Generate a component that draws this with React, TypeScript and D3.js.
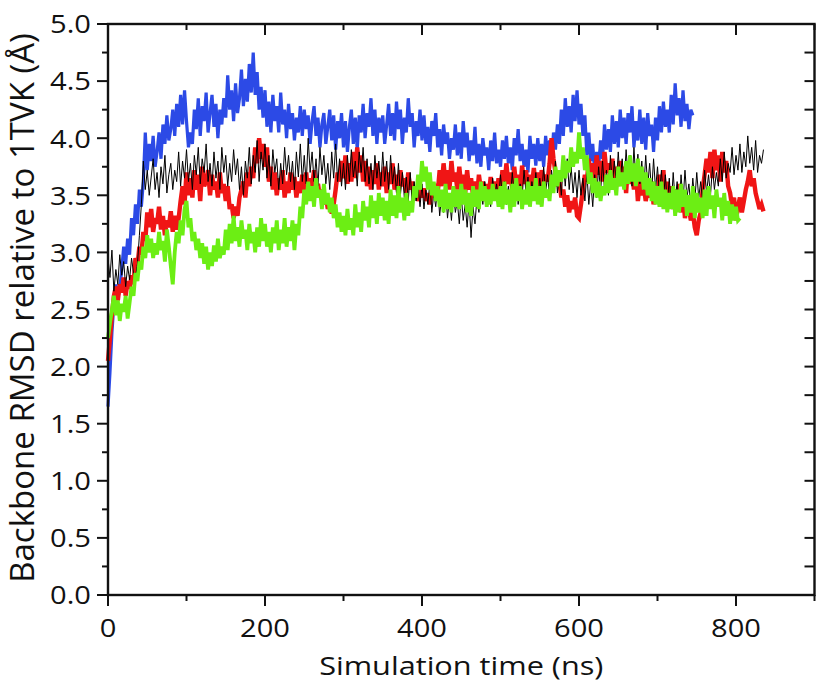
import * as d3 from "d3";

// RMSD traces, one value every STEP ns starting at t = 0
const STEP = 2.5;

const blueRmsd = [
  1.65, 1.95, 2.3, 2.55, 2.72, 2.6, 2.68, 2.85, 3.05, 2.9, 3.12, 2.98, 3.3, 3.15, 3.42, 3.25, 3.55, 3.4, 3.62, 4.05,
  3.72, 3.95, 3.8, 4.02, 3.75, 3.88, 4.05, 3.82, 4.12, 3.95, 4.2, 3.98, 4.08, 4.25, 4.02, 4.3, 4.1, 4.38, 4.12, 4.42,
  4.15, 3.92, 4.05, 3.95, 4.25, 4.08, 4.35, 4.02, 4.28, 4.15, 4.4, 4.05, 4.22, 4.38, 4.1, 4.3, 4.0, 4.25, 4.12, 4.35,
  4.18, 4.55, 4.25, 4.42, 4.15, 4.48, 4.22, 4.35, 4.6, 4.28, 4.52, 4.32, 4.65, 4.4, 4.75, 4.38, 4.58, 4.25, 4.45, 4.18,
  4.42, 4.1, 4.32, 4.05, 4.38, 4.15, 4.28, 4.05, 4.4, 4.12, 4.25, 4.0, 4.3, 4.08, 4.22, 3.98, 4.18, 4.05, 4.28, 4.02,
  4.25, 4.08, 4.2, 3.95, 4.15, 4.28, 4.02, 4.18, 3.92, 4.12, 4.22, 3.95, 4.1, 4.25, 3.98, 4.2, 3.9, 4.15, 4.0, 4.22,
  3.92, 4.15, 3.88, 4.1, 4.25, 3.95, 4.18, 3.9, 4.2, 4.05, 4.3, 4.0, 4.22, 4.1, 4.35, 4.02, 4.25, 3.95, 4.18, 4.05,
  4.2, 3.95, 4.12, 4.3, 4.02, 4.22, 3.98, 4.32, 4.08, 4.25, 3.95, 4.18, 4.05, 4.35, 4.1, 4.22, 3.92, 4.15, 4.02, 4.25,
  3.98, 4.2, 3.95, 4.1, 3.88, 4.15, 4.02, 4.22, 3.92, 4.08, 3.85, 4.12, 3.95, 4.05, 3.82, 4.0, 3.9, 4.12, 3.85, 4.05,
  3.82, 4.15, 3.92, 4.05, 3.8, 3.98, 3.85, 4.1, 3.78, 3.95, 3.75, 4.0, 3.85, 3.92, 3.72, 3.98, 3.8, 4.05, 3.78, 3.9,
  3.75, 3.98, 3.82, 4.02, 3.78, 3.92, 3.72, 4.0, 3.85, 4.08, 3.8, 3.95, 3.75, 3.9, 3.7, 4.02, 3.82, 3.95, 3.76, 4.0,
  3.8, 3.95, 3.75, 4.02, 3.85, 3.98, 3.78, 4.05, 3.9, 4.12, 3.95, 4.25, 4.02, 4.35, 4.1, 4.28, 4.05, 4.38, 4.15, 4.42,
  4.12, 4.3, 4.02, 4.2, 3.85, 4.05, 3.8, 3.95, 3.7, 3.88, 3.75, 3.98, 3.82, 4.12, 3.9, 4.08, 3.88, 4.2, 3.95, 4.15,
  3.92, 4.25, 4.0, 4.18, 3.95, 4.22, 4.05, 4.28, 3.92, 4.15, 3.98, 4.25, 3.95, 4.18, 3.9, 4.22, 4.02, 4.12, 3.88, 4.18,
  3.98, 4.28, 4.05, 4.32, 4.1, 4.25, 4.05, 4.38, 4.12, 4.48, 4.2, 4.35, 4.1, 4.42, 4.15, 4.3, 4.08, 4.25, 4.2,
];

const blackRmsd = [
  2.95, 2.78, 3.02, 2.66, 2.85, 2.72, 2.98, 2.8, 2.92, 2.7, 2.88, 2.76, 2.95, 2.82, 2.78, 2.9, 3.15, 3.42, 3.8, 3.55,
  3.72, 3.5, 3.66, 3.82, 3.55, 3.7, 3.48, 3.75, 3.6, 3.85, 3.52, 3.68, 3.78, 3.55, 3.72, 3.62, 3.88, 3.58, 3.8, 3.65,
  3.9, 3.62, 3.78, 3.55, 3.85, 3.68, 3.92, 3.6, 3.82, 3.7, 3.95, 3.62, 3.78, 3.58, 3.88, 3.65, 3.8, 3.55, 3.92, 3.7,
  3.85, 3.58, 3.78, 3.62, 3.9, 3.68, 3.82, 3.55, 3.75, 3.5, 3.8, 3.65, 3.92, 3.6, 3.85, 3.7, 3.98, 3.62, 3.88, 3.72,
  3.95, 3.65, 3.85, 3.58, 3.9, 3.7, 3.82, 3.55, 3.78, 3.6, 3.92, 3.68, 3.85, 3.62, 3.8, 3.55, 3.88, 3.66, 3.95, 3.62,
  3.85, 3.6, 4.0, 3.7, 3.88, 3.62, 3.82, 3.58, 3.92, 3.68, 3.85, 3.6, 3.78, 3.55, 3.88, 3.65, 3.95, 3.62, 3.82, 3.58,
  3.78, 3.55, 3.85, 3.62, 3.9, 3.66, 3.8, 3.58, 3.88, 3.7, 3.92, 3.62, 3.82, 3.6, 3.78, 3.55, 3.85, 3.65, 3.8, 3.58,
  3.88, 3.62, 3.8, 3.55, 3.85, 3.6, 3.75, 3.52, 3.78, 3.5, 3.7, 3.48, 3.66, 3.45, 3.7, 3.42, 3.62, 3.45, 3.58, 3.4,
  3.6, 3.38, 3.55, 3.42, 3.62, 3.35, 3.52, 3.4, 3.58, 3.32, 3.5, 3.35, 3.55, 3.3, 3.48, 3.28, 3.52, 3.35, 3.45, 3.25,
  3.5, 3.28, 3.42, 3.22, 3.45, 3.13, 3.4, 3.25, 3.48, 3.35, 3.58, 3.42, 3.62, 3.45, 3.55, 3.4, 3.65, 3.48, 3.6, 3.45,
  3.68, 3.48, 3.62, 3.42, 3.58, 3.45, 3.7, 3.5, 3.65, 3.42, 3.6, 3.48, 3.72, 3.52, 3.66, 3.45, 3.62, 3.5, 3.7, 3.46,
  3.65, 3.5, 3.75, 3.52, 3.68, 3.48, 3.72, 3.55, 3.8, 3.52, 3.7, 3.5, 3.78, 3.58, 3.82, 3.55, 3.75, 3.52, 3.7, 3.48,
  3.72, 3.5, 3.65, 3.45, 3.7, 3.42, 3.62, 3.4, 3.68, 3.48, 3.75, 3.52, 3.8, 3.55, 3.72, 3.5, 3.85, 3.58, 3.8, 3.6,
  3.88, 3.62, 3.82, 3.6, 3.9, 3.65, 3.85, 3.58, 3.92, 3.62, 3.86, 3.6, 3.8, 3.55, 3.85, 3.58, 3.78, 3.52, 3.82, 3.55,
  3.75, 3.5, 3.72, 3.46, 3.68, 3.42, 3.65, 3.4, 3.7, 3.45, 3.62, 3.38, 3.68, 3.44, 3.72, 3.48, 3.6, 3.4, 3.65, 3.45,
  3.7, 3.48, 3.62, 3.45, 3.72, 3.52, 3.68, 3.5, 3.75, 3.55, 3.7, 3.58, 3.82, 3.62, 3.88, 3.65, 3.78, 3.7, 3.92, 3.68,
  3.85, 3.72, 3.95, 3.7, 3.88, 3.75, 4.02, 3.78, 3.92, 3.72, 3.98, 3.7, 3.85, 3.78, 3.9,
];

const redRmsd = [
  2.05, 2.25, 2.45, 2.62, 2.7, 2.58, 2.72, 2.65, 2.78, 2.62, 2.75, 2.68, 2.8, 2.72, 2.95, 2.88, 3.05, 2.98, 3.18, 3.1,
  3.35, 3.22, 3.38, 3.18, 3.3, 3.25, 3.4, 3.2, 3.32, 3.15, 3.28, 3.22, 3.36, 3.18, 3.32, 3.2, 3.3, 3.45, 3.58, 3.42,
  3.7, 3.5, 3.65, 3.48, 3.72, 3.55, 3.68, 3.45, 3.75, 3.58, 3.62, 3.72, 3.5, 3.68, 3.55, 3.62, 3.48, 3.7, 3.52, 3.6,
  3.45, 3.58, 3.38, 3.42, 3.3, 3.4, 3.32, 3.48, 3.55, 3.62, 3.48, 3.7, 3.58, 3.75, 3.65, 3.92, 3.78, 4.0, 3.82, 3.95,
  3.75, 3.92, 3.62, 3.75, 3.55, 3.7, 3.5, 3.65, 3.55, 3.72, 3.48, 3.62, 3.52, 3.7, 3.55, 3.66, 3.48, 3.62, 3.52, 3.68,
  3.55, 3.7, 3.5, 3.65, 3.58, 3.72, 3.52, 3.6, 3.48, 3.55, 3.42, 3.5, 3.38, 3.46, 3.34, 3.42, 3.55, 3.7, 3.62, 3.8,
  3.65, 3.85, 3.6, 3.78, 3.62, 3.88, 3.65, 3.92, 3.7, 3.85, 3.62, 3.8, 3.58, 3.75, 3.55, 3.72, 3.6, 3.78, 3.55, 3.7,
  3.58, 3.75, 3.52, 3.7, 3.6, 3.78, 3.55, 3.68, 3.5, 3.72, 3.58, 3.65, 3.52, 3.7, 3.55, 3.62, 3.48, 3.58, 3.45, 3.55,
  3.48, 3.56, 3.45, 3.52, 3.42, 3.55, 3.48, 3.6, 3.52, 3.72, 3.58, 3.78, 3.6, 3.72, 3.55, 3.8, 3.62, 3.7, 3.55, 3.75,
  3.58, 3.68, 3.52, 3.72, 3.55, 3.65, 3.5, 3.62, 3.48, 3.68, 3.55, 3.62, 3.45, 3.6, 3.5, 3.66, 3.52, 3.62, 3.48, 3.65,
  3.55, 3.72, 3.58, 3.78, 3.6, 3.7, 3.55, 3.75, 3.58, 3.68, 3.52, 3.76, 3.6, 3.72, 3.55, 3.68, 3.58, 3.74, 3.55, 3.7,
  3.58, 3.72, 3.6, 3.68, 3.62, 3.78, 4.0, 3.82, 3.7, 3.58, 3.62, 3.48, 3.55, 3.4, 3.5, 3.35, 3.45, 3.38, 3.48, 3.32,
  3.3, 3.42, 3.55, 3.68, 3.62, 3.82, 3.65, 3.78, 3.6, 3.85, 3.68, 3.8, 3.62, 3.88, 3.7, 3.78, 3.65, 3.82, 3.6, 3.75,
  3.58, 3.8, 3.62, 3.75, 3.52, 3.78, 3.6, 3.7, 3.55, 3.72, 3.45, 3.62, 3.5, 3.58, 3.45, 3.55, 3.48, 3.62, 3.42, 3.58,
  3.45, 3.68, 3.5, 3.72, 3.48, 3.62, 3.4, 3.58, 3.38, 3.55, 3.42, 3.6, 3.35, 3.52, 3.3, 3.45, 3.38, 3.28, 3.35, 3.22,
  3.15, 3.28, 3.35, 3.55, 3.68, 3.82, 3.7, 3.88, 3.65, 3.9, 3.72, 3.85, 3.62, 3.88, 3.7, 3.8, 3.58, 3.52, 3.4, 3.48,
  3.28, 3.4, 3.48, 3.35, 3.45, 3.55, 3.62, 3.72, 3.58, 3.65, 3.52, 3.45, 3.38, 3.42, 3.36,
];

const greenRmsd = [
  2.25, 2.38, 2.5, 2.62, 2.45, 2.58, 2.4, 2.55, 2.48, 2.62, 2.42, 2.56, 2.7, 2.62, 2.82, 2.75, 2.92, 2.85, 3.05, 2.95,
  3.15, 3.0, 3.12, 2.95, 3.08, 2.98, 3.18, 3.02, 3.1, 2.92, 3.2, 3.05, 2.88, 2.72, 3.0, 3.18, 3.08, 3.28, 3.15, 3.38,
  3.45, 3.22, 3.3, 3.1, 3.18, 3.02, 3.12, 2.95, 3.08, 2.9, 3.05, 2.85, 3.0, 2.88, 3.06, 2.92, 3.12, 2.95, 3.05, 2.98,
  3.2, 3.02, 3.25, 3.08, 3.32, 3.1, 3.22, 3.05, 3.28, 3.12, 3.2, 3.02, 3.25, 3.08, 3.18, 3.0, 3.22, 3.05, 3.3, 3.1,
  3.25, 3.05, 3.18, 3.0, 3.22, 3.08, 3.28, 3.02, 3.2, 3.08, 3.3, 3.05, 3.22, 3.1, 3.28, 3.02, 3.25, 3.15, 3.4, 3.3,
  3.55, 3.42, 3.62, 3.45, 3.58, 3.4, 3.65, 3.48, 3.55, 3.38, 3.6, 3.42, 3.52, 3.35, 3.48, 3.3, 3.42, 3.22, 3.35, 3.18,
  3.32, 3.15, 3.38, 3.2, 3.3, 3.15, 3.42, 3.22, 3.35, 3.18, 3.45, 3.28, 3.4, 3.22, 3.5, 3.3, 3.45, 3.25, 3.52, 3.32,
  3.48, 3.28, 3.45, 3.25, 3.55, 3.32, 3.5, 3.3, 3.58, 3.35, 3.48, 3.28, 3.52, 3.32, 3.45, 3.35, 3.58, 3.48, 3.68, 3.55,
  3.8, 3.62, 3.75, 3.55, 3.7, 3.5, 3.62, 3.45, 3.58, 3.4, 3.55, 3.35, 3.6, 3.38, 3.52, 3.35, 3.58, 3.4, 3.55, 3.38,
  3.6, 3.42, 3.55, 3.35, 3.52, 3.32, 3.58, 3.4, 3.55, 3.38, 3.62, 3.45, 3.58, 3.4, 3.55, 3.42, 3.6, 3.45, 3.55, 3.4,
  3.58, 3.38, 3.62, 3.42, 3.55, 3.35, 3.6, 3.4, 3.65, 3.45, 3.58, 3.38, 3.55, 3.42, 3.62, 3.4, 3.58, 3.45, 3.65, 3.42,
  3.58, 3.4, 3.62, 3.48, 3.55, 3.45, 3.68, 3.52, 3.75, 3.58, 3.72, 3.62, 3.85, 3.65, 3.8, 3.7, 3.92, 3.75, 3.88, 3.78,
  4.05, 3.82, 3.92, 3.72, 3.85, 3.6, 3.7, 3.52, 3.65, 3.48, 3.62, 3.45, 3.58, 3.5, 3.68, 3.52, 3.72, 3.55, 3.65, 3.5,
  3.75, 3.58, 3.7, 3.55, 3.8, 3.6, 3.85, 3.62, 3.78, 3.58, 3.82, 3.62, 3.75, 3.55, 3.7, 3.5, 3.65, 3.45, 3.62, 3.42,
  3.58, 3.4, 3.62, 3.38, 3.55, 3.35, 3.52, 3.38, 3.58, 3.32, 3.55, 3.35, 3.6, 3.4, 3.55, 3.32, 3.5, 3.35, 3.58, 3.3,
  3.52, 3.35, 3.48, 3.3, 3.55, 3.32, 3.58, 3.38, 3.5, 3.3, 3.55, 3.4, 3.48, 3.28, 3.52, 3.32, 3.45, 3.25, 3.42, 3.28,
  3.4, 3.28, 3.3,
];

const SERIES = [
  { key: "blue", values: blueRmsd, color: "#2c4ae6", width: 3.2 },
  { key: "red", values: redRmsd, color: "#f01515", width: 4.4 },
  { key: "black", values: blackRmsd, color: "#000000", width: 1 },
  { key: "green", values: greenRmsd, color: "#6cee14", width: 3.8 },
];

const X_MAJOR = [0, 200, 400, 600, 800];
const X_MINOR = [100, 300, 500, 700, 900];
const Y_MAJOR = [0, 0.5, 1, 1.5, 2, 2.5, 3, 3.5, 4, 4.5, 5];
const Y_MINOR = [0.25, 0.75, 1.25, 1.75, 2.25, 2.75, 3.25, 3.75, 4.25, 4.75];

const W = 820;
const H = 688;
const FONT = "'Open Sans', 'Noto Sans', sans-serif";

export default function App() {
  const x = d3.scaleLinear().domain([0, 900]).range([108, 814.5]);
  const y = d3.scaleLinear().domain([0, 5]).range([595, 24]);
  const [x0, x1] = x.range();
  const [y0, y1] = y.range();

  const line = d3
    .line<number>()
    .x((_d, i) => x(i * STEP))
    .y((d) => y(d));

  const ink = "#111";

  return (
    <svg
      width={W}
      height={H}
      viewBox={`0 0 ${W} ${H}`}
      style={{ position: "absolute", left: 0, top: 0, background: "#fff" }}
      fontFamily={FONT}
    >
      {SERIES.map((s) => (
        <path
          key={s.key}
          d={line(s.values) ?? ""}
          fill="none"
          stroke={s.color}
          strokeWidth={s.width}
          strokeLinejoin="miter"
          strokeMiterlimit={3}
        />
      ))}

      <g stroke={ink} strokeWidth={2}>
        {/* left ticks, outward */}
        {Y_MAJOR.map((v) => (
          <line key={`lM${v}`} x1={x0 - 11} x2={x0} y1={y(v)} y2={y(v)} />
        ))}
        {Y_MINOR.map((v) => (
          <line key={`lm${v}`} x1={x0 - 6} x2={x0} y1={y(v)} y2={y(v)} />
        ))}
        {/* right ticks, inward */}
        {[...Y_MAJOR, ...Y_MINOR].map((v) => (
          <line key={`r${v}`} x1={x1 - 10} x2={x1} y1={y(v)} y2={y(v)} />
        ))}
        {/* bottom ticks, outward */}
        {X_MAJOR.map((v) => (
          <line key={`bM${v}`} x1={x(v)} x2={x(v)} y1={y0} y2={y0 + 11} />
        ))}
        {X_MINOR.map((v) => (
          <line key={`bm${v}`} x1={x(v)} x2={x(v)} y1={y0} y2={y0 + 6} />
        ))}
        {/* top ticks, inward */}
        {X_MAJOR.map((v) => (
          <line key={`tM${v}`} x1={x(v)} x2={x(v)} y1={y1} y2={y1 + 11} />
        ))}
        {X_MINOR.map((v) => (
          <line key={`tm${v}`} x1={x(v)} x2={x(v)} y1={y1} y2={y1 + 6} />
        ))}
      </g>

      <rect x={x0} y={y1} width={x1 - x0} height={y0 - y1} fill="none" stroke={ink} strokeWidth={2.4} />

      <g fill={ink} fontSize={26}>
        {Y_MAJOR.map((v) => (
          <text
            key={`yl${v}`}
            transform={`translate(${x0 - 17},${y(v)}) scale(1.12,1)`}
            textAnchor="end"
            dy="0.36em"
          >
            {d3.format(".1f")(v)}
          </text>
        ))}
        {X_MAJOR.map((v) => (
          <text
            key={`xl${v}`}
            transform={`translate(${x(v)},${y0 + 42}) scale(1.12,1)`}
            textAnchor="middle"
          >
            {v}
          </text>
        ))}
      </g>

      <text
        transform={`translate(${(x0 + x1) / 2},675) scale(1.18,1)`}
        textAnchor="middle"
        fontSize={26}
        fill={ink}
      >
        Simulation time (ns)
      </text>
      <text
        transform={`translate(34,308) rotate(-90) scale(1.12,1.1)`}
        textAnchor="middle"
        fontSize={29.5}
        fill={ink}
      >
        Backbone RMSD relative to 1TVK (Å)
      </text>
    </svg>
  );
}
